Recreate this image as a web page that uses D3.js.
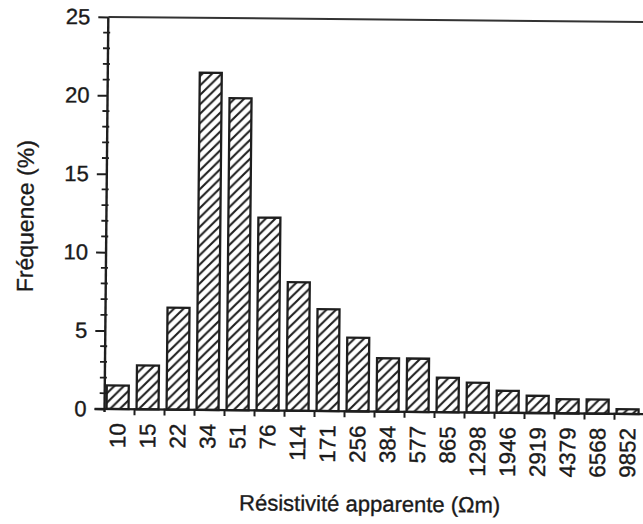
<!DOCTYPE html>
<html>
<head>
<meta charset="utf-8">
<script src="https://cdn.jsdelivr.net/npm/d3@7"></script>
<style>
  html, body { margin: 0; padding: 0; background: #fff; }
  svg { display: block; }
  text { font-family: "Liberation Sans", Arial, Helvetica, sans-serif; fill: #1a1a1a; stroke: #1a1a1a; stroke-width: 0.35px; }
</style>
</head>
<body>
<svg id="chart" width="643" height="524"></svg>
<script>
// Apparent resistivity classes (Ωm) and their frequency (%)
const categories = ["10", "15", "22", "34", "51", "76", "114", "171", "256", "384",
                    "577", "865", "1298", "1946", "2919", "4379", "6568", "9852"];
const frequencies = [1.5, 2.8, 6.5, 21.5, 19.9, 12.3, 8.2, 6.5, 4.7, 3.4,
                     3.4, 2.2, 1.9, 1.4, 1.1, 0.9, 0.9, 0.3];
const yTicks = [0, 5, 10, 15, 20, 25];
const yMinorTicks = d3.range(0, 26).filter(v => v % 5 !== 0);

const xTitle = "Résistivité apparente (Ωm)";
const yTitle = "Fréquence (%)";

const svg = d3.select("#chart");
const ink = "#1e1e1e";

// hatch fill for the bars
const defs = svg.append("defs");
const pat = defs.append("pattern")
  .attr("id", "hatch")
  .attr("patternUnits", "userSpaceOnUse")
  .attr("width", 9.5).attr("height", 9.5);
pat.append("rect").attr("width", 9.5).attr("height", 9.5).attr("fill", "#fff");
pat.append("path")
  .attr("d", "M-2,11.5 L11.5,-2 M-2,2 L2,-2 M7.5,11.5 L11.5,7.5")
  .attr("stroke", ink).attr("stroke-width", 2.1);

// whole figure sits slightly tilted
const g = svg.append("g").attr("transform", "rotate(0.55,320,260)");

const x = d3.scaleBand().domain(categories).range([106, 646]).paddingInner(0).paddingOuter(0);
const y = d3.scaleLinear().domain([0, 25]).range([411, 19]);
const axisX = 106;

// bars
g.selectAll("rect.bar")
  .data(categories)
  .join("rect")
  .attr("class", "bar")
  .attr("x", d => x(d) + 2)
  .attr("width", 22)
  .attr("y", (d, i) => y(frequencies[i]))
  .attr("height", (d, i) => y(0) - y(frequencies[i]))
  .attr("fill", "url(#hatch)")
  .attr("stroke", ink)
  .attr("stroke-width", 2.3);

// y axis: major ticks with labels, minor ticks every unit
const yAxis = d3.axisLeft(y).tickValues(yTicks).tickSize(10).tickPadding(8).tickFormat(d3.format("d"));
const ya = g.append("g").attr("transform", `translate(${axisX},0)`).call(yAxis);
ya.select(".domain").remove();
ya.selectAll(".tick line").attr("stroke", ink).attr("stroke-width", 2);
ya.selectAll(".tick text")
  .attr("font-size", 22).attr("fill", ink)
  .style("font-family", '"Liberation Sans", Arial, sans-serif');

g.append("g").selectAll("line")
  .data(yMinorTicks)
  .join("line")
  .attr("x1", axisX - 5).attr("x2", axisX + 2)
  .attr("y1", d => y(d)).attr("y2", d => y(d))
  .attr("stroke", ink).attr("stroke-width", 1.8);

// axis frame lines
g.append("line")
  .attr("x1", axisX).attr("x2", axisX)
  .attr("y1", y(25)).attr("y2", y(0) + 3)
  .attr("stroke", ink).attr("stroke-width", 2.4);
g.append("line")
  .attr("x1", axisX - 10).attr("x2", 646)
  .attr("y1", y(0)).attr("y2", y(0))
  .attr("stroke", ink).attr("stroke-width", 2.4);
g.append("line")
  .attr("x1", axisX).attr("x2", 646)
  .attr("y1", y(25)).attr("y2", y(25))
  .attr("stroke", "#333").attr("stroke-width", 2);

// x ticks between classes
g.append("g").selectAll("line")
  .data(categories.slice(1))
  .join("line")
  .attr("x1", d => x(d)).attr("x2", d => x(d))
  .attr("y1", y(0) - 1).attr("y2", y(0) + 6)
  .attr("stroke", ink).attr("stroke-width", 2);

// rotated class labels
g.append("g").selectAll("text")
  .data(categories)
  .join("text")
  .attr("transform", d => `translate(${x(d) + 2 + 11 + 8},425) rotate(-90)`)
  .attr("text-anchor", "end")
  .attr("font-size", 22.5)
  .text(d => d);

// axis titles
g.append("text")
  .attr("x", 372).attr("y", 511)
  .attr("text-anchor", "middle")
  .attr("font-size", 22)
  .text(xTitle);

g.append("text")
  .attr("transform", "translate(33,219) rotate(-90)")
  .attr("text-anchor", "middle")
  .attr("font-size", 23)
  .text(yTitle);
</script>
</body>
</html>
